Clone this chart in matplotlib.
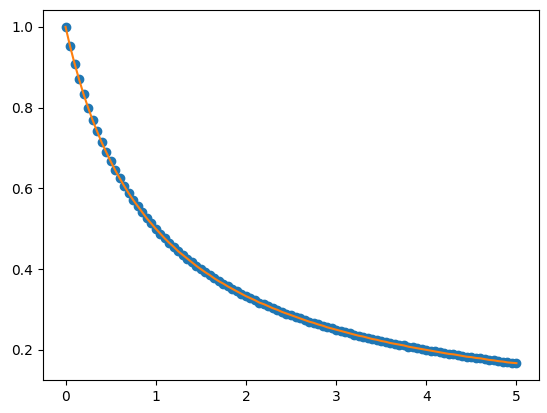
import matplotlib
matplotlib.use("Agg")
import matplotlib.pyplot as plt

x_vals = [0.00, 0.05, 0.10, 0.15, 0.20, 0.25, 0.30, 0.35, 0.40, 0.45,
          0.50, 0.55, 0.60, 0.65, 0.70, 0.75, 0.80, 0.85, 0.90, 0.95,
          1.00, 1.05, 1.10, 1.15, 1.20, 1.25, 1.30, 1.35, 1.40, 1.45,
          1.50, 1.55, 1.60, 1.65, 1.70, 1.75, 1.80, 1.85, 1.90, 1.95,
          2.00, 2.05, 2.10, 2.15, 2.20, 2.25, 2.30, 2.35, 2.40, 2.45,
          2.50, 2.55, 2.60, 2.65, 2.70, 2.75, 2.80, 2.85, 2.90, 2.95,
          3.00, 3.05, 3.10, 3.15, 3.20, 3.25, 3.30, 3.35, 3.40, 3.45,
          3.50, 3.55, 3.60, 3.65, 3.70, 3.75, 3.80, 3.85, 3.90, 3.95,
          4.00, 4.05, 4.10, 4.15, 4.20, 4.25, 4.30, 4.35, 4.40, 4.45,
          4.50, 4.55, 4.60, 4.65, 4.70, 4.75, 4.80, 4.85, 4.90, 4.95,
          5.00]

y_vals = [1.000, 0.952, 0.909, 0.870, 0.833, 0.800, 0.769, 0.741, 0.714, 0.690,
          0.667, 0.645, 0.625, 0.606, 0.588, 0.571, 0.556, 0.541, 0.526, 0.513,
          0.500, 0.488, 0.476, 0.465, 0.455, 0.444, 0.435, 0.426, 0.417, 0.408,
          0.400, 0.392, 0.385, 0.377, 0.370, 0.364, 0.357, 0.351, 0.345, 0.339,
          0.333, 0.328, 0.323, 0.317, 0.313, 0.308, 0.303, 0.299, 0.294, 0.290,
          0.286, 0.282, 0.278, 0.274, 0.270, 0.267, 0.263, 0.260, 0.256, 0.253,
          0.250, 0.247, 0.244, 0.241, 0.238, 0.235, 0.233, 0.230, 0.227, 0.225,
          0.222, 0.220, 0.217, 0.215, 0.213, 0.211, 0.208, 0.206, 0.204, 0.202,
          0.200, 0.198, 0.196, 0.194, 0.192, 0.190, 0.189, 0.187, 0.185, 0.183,
          0.182, 0.180, 0.179, 0.177, 0.175, 0.174, 0.172, 0.171, 0.169, 0.168,
          0.167]

fig = plt.figure(figsize=(5.47, 4.13), dpi=100)
ax = fig.add_axes([43 / 547, 1 - 380 / 413, 496 / 547, 370 / 413])

ax.scatter(x_vals, y_vals)
ax.plot(x_vals, y_vals, color="tab:orange")

fig.savefig("out.png", dpi=100)
